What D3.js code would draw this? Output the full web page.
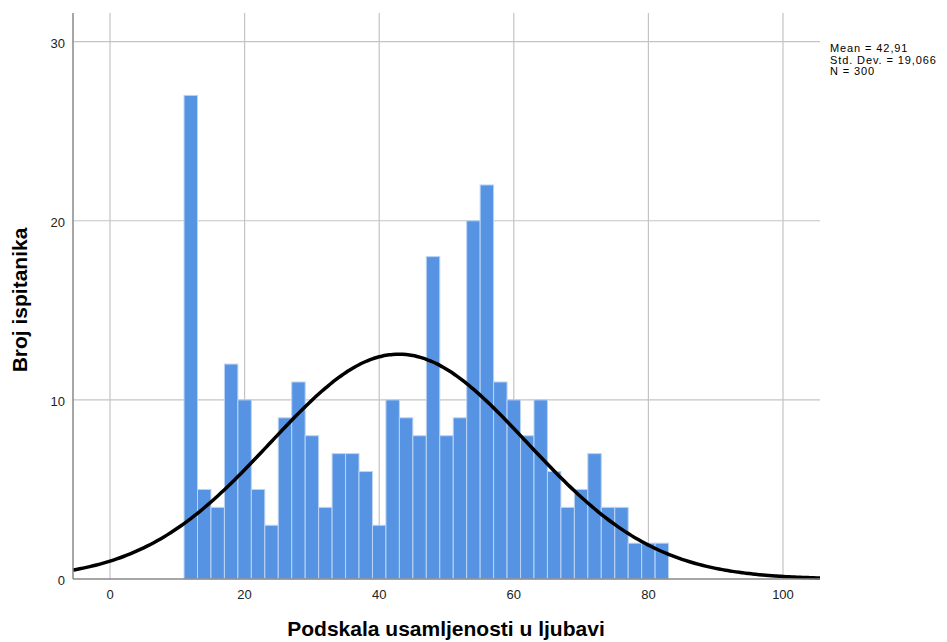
<!DOCTYPE html>
<html>
<head>
<meta charset="utf-8">
<script src="https://cdn.jsdelivr.net/npm/d3@7"></script>
<style>
    body { margin: 0; background: #fff; }
    text { font-family: Arial, "Liberation Sans", sans-serif; }
</style>
</head>
<body>
<svg id="chart" width="947" height="642"></svg>
<script>
// Histogram: Podskala usamljenosti u ljubavi
/* global d3 */

// Data
var binStarts = [11, 13, 15, 17, 19, 21, 23, 25, 27, 29, 31, 33, 35, 37, 39, 41, 43, 45,
    47, 49, 51, 53, 55, 57, 59, 61, 63, 65, 67, 69, 71, 73, 75, 77, 79, 81];
var counts = [27, 5, 4, 12, 10, 5, 3, 9, 11, 8, 4, 7, 7, 6, 3, 10, 9, 8,
    18, 8, 9, 20, 22, 11, 10, 8, 10, 6, 4, 5, 7, 4, 4, 2, 2, 2];
var binWidth = 2;
var xTicks = [0, 20, 40, 60, 80, 100];
var yTicks = [0, 10, 20, 30];
var stats = { mean: 42.91, sd: 19.066, n: 300 };
var statLabels = ["Mean = 42,91", "Std. Dev. = 19,066", "N = 300"];

// Dimension
var svg = d3.select("#chart");
var plot = { left: 73, right: 820, top: 13, bottom: 579 };

var x = d3.scaleLinear().domain([-5.5, 105.5]).range([plot.left, plot.right]);
var y = d3.scaleLinear().domain([0, 31.6]).range([plot.bottom, plot.top]);

// Grid
var grid = svg.append("g").attr("id", "grid");
grid.selectAll(".vgrid")
    .data(xTicks)
    .enter().append("line")
    .attr("x1", d => x(d)).attr("x2", d => x(d))
    .attr("y1", plot.top).attr("y2", plot.bottom)
    .style("stroke", "#c4c4c4")
    .style("stroke-width", 1.2);
grid.selectAll(".hgrid")
    .data(yTicks.filter(d => d > 0))
    .enter().append("line")
    .attr("x1", plot.left).attr("x2", plot.right)
    .attr("y1", d => y(d)).attr("y2", d => y(d))
    .style("stroke", "#c4c4c4")
    .style("stroke-width", 1.2);

// Bars
svg.append("g").attr("id", "bars")
    .selectAll("rect")
    .data(binStarts.map((b, i) => ({ x0: b, count: counts[i] })))
    .enter().append("rect")
    .attr("x", d => x(d.x0))
    .attr("y", d => y(d.count))
    .attr("width", d => x(d.x0 + binWidth) - x(d.x0))
    .attr("height", d => y(0) - y(d.count))
    .style("fill", "#5694e3")
    .style("stroke", "#bcd4f3")
    .style("stroke-width", 1);

// Normal curve from the reported statistics
var curveX = d3.range(-5.5, 105.6, 0.5);
var scaleF = stats.n * binWidth / (stats.sd * Math.sqrt(2 * Math.PI));
var line = d3.line()
    .x(d => x(d))
    .y(d => y(scaleF * Math.exp(-0.5 * Math.pow((d - stats.mean) / stats.sd, 2))))
    .curve(d3.curveBasis);
svg.append("path")
    .datum(curveX)
    .attr("d", line)
    .style("fill", "none")
    .style("stroke", "#000")
    .style("stroke-width", 3.5);

// Axes lines
svg.append("line")
    .attr("x1", plot.left).attr("x2", plot.left)
    .attr("y1", plot.top).attr("y2", plot.bottom)
    .style("stroke", "#888").style("stroke-width", 1.5);
svg.append("line")
    .attr("x1", plot.left).attr("x2", plot.right)
    .attr("y1", plot.bottom).attr("y2", plot.bottom)
    .style("stroke", "#888").style("stroke-width", 1.5);

// Tick labels
svg.append("g").selectAll("text")
    .data(xTicks)
    .enter().append("text")
    .text(d => d)
    .attr("x", d => x(d))
    .attr("y", plot.bottom + 20)
    .attr("font-size", 13)
    .attr("text-anchor", "middle")
    .style("fill", "#222");
svg.append("g").selectAll("text")
    .data(yTicks)
    .enter().append("text")
    .text(d => d)
    .attr("x", plot.left - 8)
    .attr("y", d => y(d) + 6)
    .attr("font-size", 13)
    .attr("text-anchor", "end")
    .style("fill", "#222");

// Axis titles
svg.append("text")
    .text("Podskala usamljenosti u ljubavi")
    .attr("x", 446)
    .attr("y", 636)
    .attr("font-size", 21)
    .attr("font-weight", "bold")
    .attr("text-anchor", "middle")
    .style("fill", "#000");
svg.append("text")
    .text("Broj ispitanika")
    .attr("transform", "translate(27, 300) rotate(-90)")
    .attr("font-size", 21)
    .attr("font-weight", "bold")
    .attr("text-anchor", "middle")
    .style("fill", "#000");

// Statistics box
svg.append("g").selectAll("text")
    .data(statLabels)
    .enter().append("text")
    .text(d => d)
    .attr("x", 830)
    .attr("y", (d, i) => 52 + i * 11.5)
    .attr("font-size", 11)
    .attr("letter-spacing", 0.9)
    .style("fill", "#000");
</script>
</body>
</html>
